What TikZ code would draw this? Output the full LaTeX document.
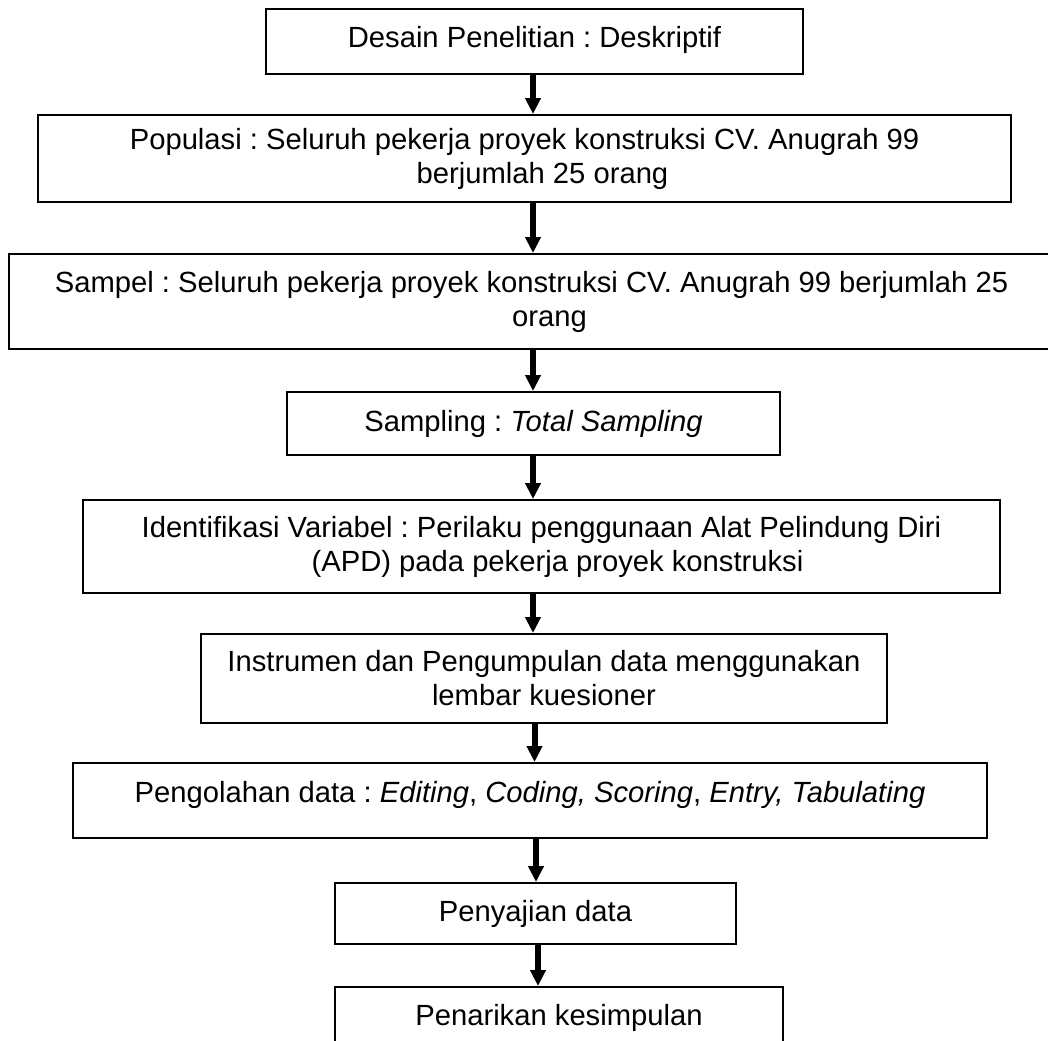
\documentclass[tikz,border=0pt]{standalone}
\usepackage{fontspec}
\setmainfont{Liberation Sans}
\usetikzlibrary{arrows.meta}
\frenchspacing
\begin{document}
\begin{tikzpicture}[x=0.5pt,y=-0.5pt,
  flowbox/.style={draw=black, line width=1pt, inner sep=0pt, align=center,
    font=\fontsize{14.6pt}{17pt}\selectfont\frenchspacing, fill=white},
  arr/.style={line width=3pt, -{Triangle[length=8pt,width=7.5pt]}}]
\useasboundingbox (0,0) rectangle (1048,1040);
\clip (0,0) rectangle (1048,1040);
\fill[white] (0,0) rectangle (1048,1040);

\node[flowbox, minimum width=268.5pt, minimum height=32.5pt, text depth=4.5pt] (desain) at (534.5,41.5)
  {Desain Penelitian : Deskriptif};
\node[flowbox, minimum width=486.5pt, minimum height=43.5pt] (populasi) at (524.5,158.5)
  {Populasi : Seluruh pekerja proyek konstruksi CV. Anugrah 99\\\hspace*{18pt}berjumlah 25 orang};
\node[flowbox, minimum width=522.5pt, minimum height=47.5pt] (sampel) at (531.5,301.5)
  {Sampel : Seluruh pekerja proyek konstruksi CV. Anugrah 99 berjumlah 25\\\hspace*{18pt}orang};
\node[flowbox, minimum width=246.5pt, minimum height=31.5pt] (sampling) at (533.5,423.5)
  {Sampling : \textit{Total Sampling}};
\node[flowbox, minimum width=458.5pt, minimum height=46.5pt] (identifikasi) at (541.5,546.5)
  {Identifikasi Variabel : Perilaku penggunaan Alat Pelindung Diri\\\hspace*{16pt}(APD) pada pekerja proyek konstruksi};
\node[flowbox, minimum width=343pt, minimum height=44.5pt] (instrumen) at (544,678.5)
  {Instrumen dan Pengumpulan data menggunakan\\lembar kuesioner};
\node[flowbox, minimum width=457pt, minimum height=37.5pt, text depth=9pt] (pengolahan) at (530,800.5)
  {Pengolahan data : \textit{Editing}, \textit{Coding, Scoring}, \textit{Entry, Tabulating}};
\node[flowbox, minimum width=200.5pt, minimum height=30.5pt] (penyajian) at (535.5,913.5)
  {Penyajian data};
\node[flowbox, minimum width=224pt, minimum height=31pt] (penarikan) at (559,1018)
  {Penarikan kesimpulan};

\coordinate (a1) at (533,0);
\coordinate (a6) at (534.5,0);
\coordinate (a7) at (536,0);
\coordinate (a8) at (538,0);

\draw[arr] (desain.south -| a1) -- (populasi.north -| a1);
\draw[arr] (populasi.south -| a1) -- (sampel.north -| a1);
\draw[arr] (sampel.south -| a1) -- (sampling.north -| a1);
\draw[arr] (sampling.south -| a1) -- (identifikasi.north -| a1);
\draw[arr] (identifikasi.south -| a1) -- (instrumen.north -| a1);
\draw[arr] (instrumen.south -| a6) -- (pengolahan.north -| a6);
\draw[arr] (pengolahan.south -| a7) -- (penyajian.north -| a7);
\draw[arr] (penyajian.south -| a8) -- (penarikan.north -| a8);
\end{tikzpicture}
\end{document}
